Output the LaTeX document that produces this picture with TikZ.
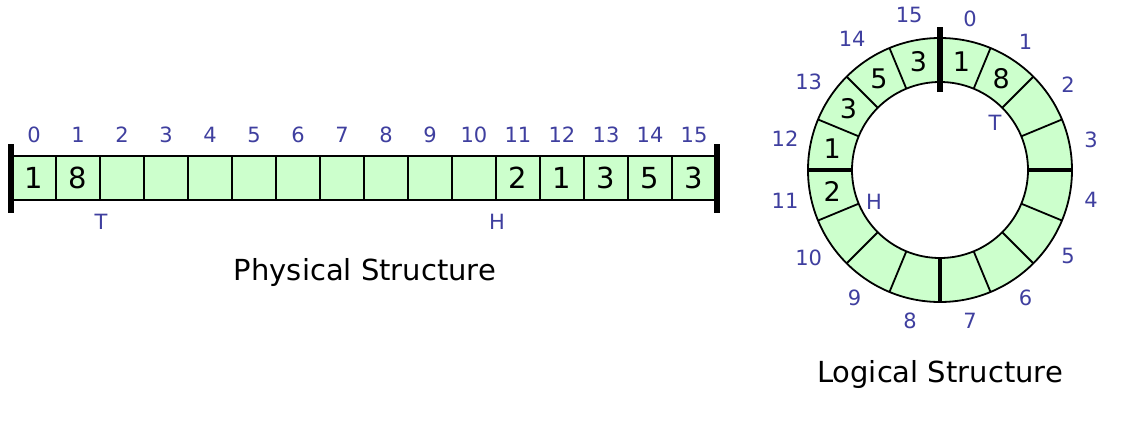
\documentclass[tikz,border=0pt]{standalone}
\usepackage{fontspec}
\setmainfont{DejaVu Sans}
\definecolor{cellgreen}{HTML}{CCFFCC}
\definecolor{lblblue}{HTML}{3F3F9F}
\begin{document}
\begin{tikzpicture}[x=1pt,y=-1pt,
  cell/.style={draw=black, line width=1.8pt, fill=cellgreen, minimum width=44pt, minimum height=44pt, inner sep=0pt, font=\fontsize{29}{29}\selectfont},
  idx/.style={text=lblblue, font=\fontsize{21}{21}\selectfont, inner sep=0pt},
  ptr/.style={text=lblblue, font=\fontsize{21}{21}\selectfont, inner sep=0pt},
  ringval/.style={font=\fontsize{27}{27}\selectfont, inner sep=0pt},
  caption/.style={font=\fontsize{29}{29}\selectfont, inner sep=0pt},
  bar/.style={line width=5.5pt},
  ringline/.style={line width=1.8pt},
]
\useasboundingbox (0,0) rectangle (1144,421);
\fill[white] (0,0) rectangle (1144,421);
% physical structure
\foreach \i/\v in {0/1,1/8,2/{},3/{},4/{},5/{},6/{},7/{},8/{},9/{},10/{},11/2,12/1,13/3,14/5,15/3} {
  \node[cell] (p\i) at ({34+44*\i},178) {\v};
  \node[idx] (pl\i) at ({34+44*\i},135) {\i};
}
\coordinate (lbt) at ([yshift=11pt]p0.north west);
\coordinate (lbb) at ([yshift=-12pt]p0.south west);
\coordinate (rbt) at ([yshift=11pt]p15.north east);
\coordinate (rbb) at ([yshift=-12pt]p15.south east);
\draw[bar] (lbt) -- (lbb);
\draw[bar] (rbt) -- (rbb);
\node[ptr] (T1) at (101,222) {T};
\node[ptr] (H1) at (497,222) {H};
\node[caption] (cap1) at (365,272) {Physical Structure};
% logical structure
\begin{scope}[shift={(940,170)}]
  \fill[cellgreen, even odd rule] (0pt,0pt) circle[radius=132pt] (0pt,0pt) circle[radius=88pt];
  \draw[ringline] (0pt,0pt) circle[radius=132pt];
  \draw[ringline] (0pt,0pt) circle[radius=88pt];
  \foreach \k in {0,...,15} {
    \draw[ringline] ({90-22.5*\k}:88pt) -- ({90-22.5*\k}:132pt);
  }
  \draw[line width=3.5pt] (0:88pt) -- (0:132pt);
  \draw[line width=3.5pt] (180:88pt) -- (180:132pt);
  \draw[line width=3.5pt] (270:88pt) -- (270:132pt);
  \draw[line width=5.5pt] (90:78pt) -- (90:143pt);
  \foreach \k in {0,...,9} {
    \node[idx] (rl\k) at ({78.75-22.5*\k}:154pt) {\k};
  }
  \foreach \k in {10,...,15} {
    \node[idx] (rl\k) at ({78.75-22.5*\k}:158pt) {\k};
  }
  \foreach \k/\v in {0/1,1/8,11/2,12/1,13/3,14/5,15/3} {
    \node[ringval] (rv\k) at ({78.75-22.5*\k}:110pt) {\v};
  }
  \node[ptr] (T2) at (55pt,47pt) {T};
  \node[ptr] (H2) at (-66pt,-32pt) {H};
\end{scope}
\node[caption] (cap2) at (940,374) {Logical Structure};
\end{tikzpicture}
\end{document}
